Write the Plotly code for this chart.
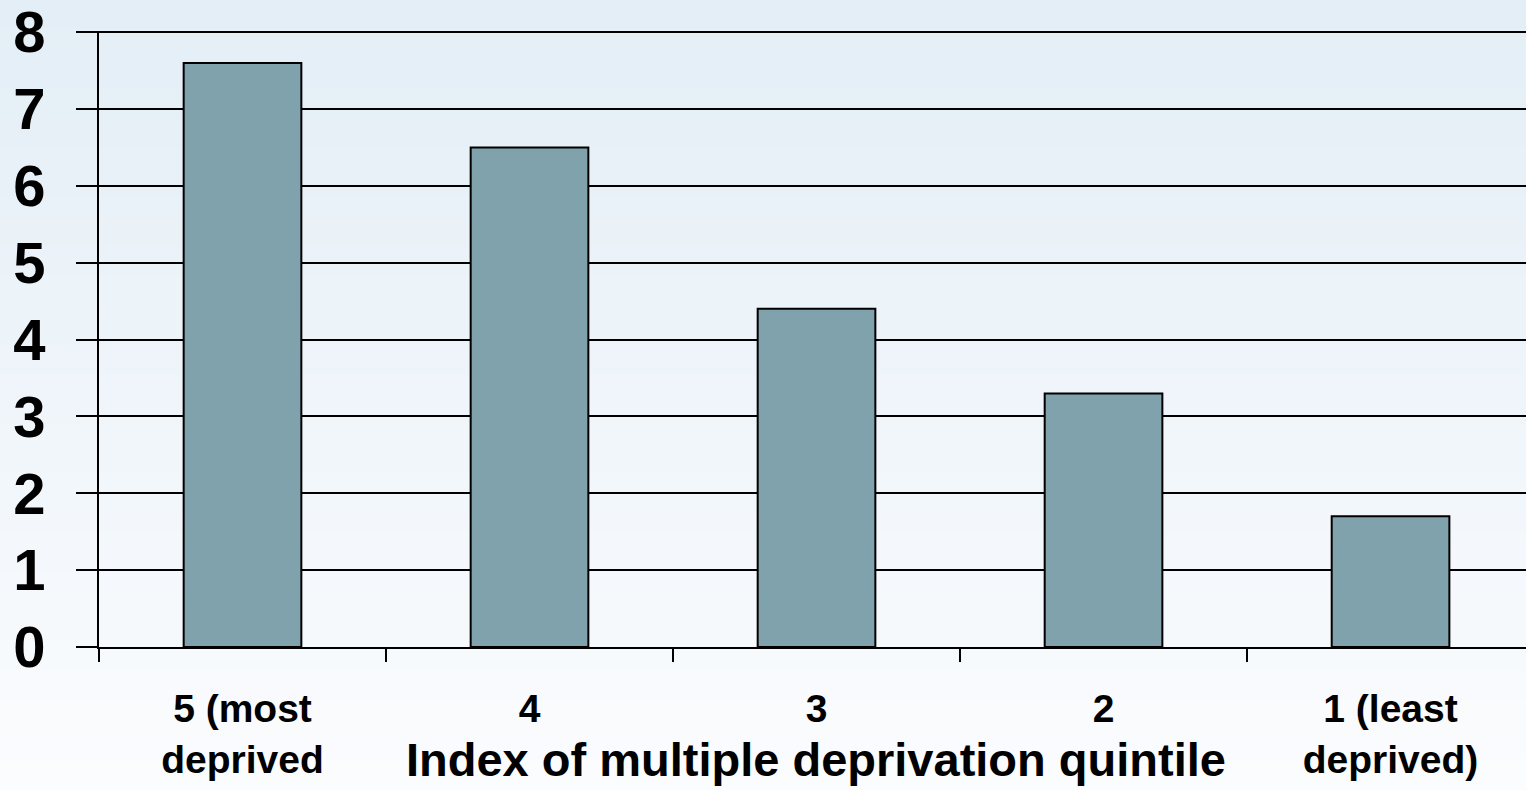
import plotly.graph_objects as go

categories = ["5 (most<br>deprived", "4", "3", "2", "1 (least<br>deprived)"]
values = [7.6, 6.5, 4.4, 3.3, 1.7]
y_ticks = [0, 1, 2, 3, 4, 5, 6, 7, 8]
x_title = "Index of multiple deprivation quintile"

W, H = 1526, 790
L, R, T, B = 99, 0, 31, 143

fig = go.Figure()
fig.add_trace(go.Bar(
    x=categories, y=values, width=0.41,
    marker=dict(color="#80A2AC", line=dict(color="#000000", width=2)),
    hoverinfo="skip",
))

# vertical gradient background
top = (227, 238, 246)
bot = (251, 252, 254)
n = 80
ph = H - T - B
y_top = (H - B - 0) / ph
y_bot = (H - B - H) / ph
shapes = []
for i in range(n):
    f = i / (n - 1)
    c = tuple(round(top[k] + (bot[k] - top[k]) * f) for k in range(3))
    y0 = y_top - (y_top - y_bot) * i / n
    y1 = y_top - (y_top - y_bot) * (i + 1) / n
    shapes.append(dict(type="rect", xref="paper", yref="paper",
                       x0=-0.1, x1=1.1, y0=y1 - 0.002, y1=y0 + 0.002,
                       fillcolor="rgb(%d,%d,%d)" % c, line=dict(width=0),
                       layer="below"))

fig.update_layout(
    width=W, height=H,
    margin=dict(l=L, r=R, t=T, b=B, pad=0, autoexpand=False),
    paper_bgcolor="rgb(251,252,254)",
    plot_bgcolor="rgba(0,0,0,0)",
    shapes=shapes,
    showlegend=False,
    bargap=0.59,
    font=dict(family="Liberation Sans, Arial, sans-serif", color="#000000"),
    annotations=[dict(text="<b>%s</b>" % x_title, xref="paper", yref="paper",
                      x=0.5025, y=(H - B - 759) / ph, xanchor="center", yanchor="middle",
                      showarrow=False, font=dict(size=47, color="#000000"))],
)

fig.update_xaxes(
    range=[-0.5, 4.472],
    tickson="boundaries",
    ticks="outside", ticklen=13, tickwidth=2, tickcolor="#000000",
    showline=True, linecolor="#000000", linewidth=2,
    showgrid=False,
    automargin=False,
    tickfont=dict(size=39, family="Liberation Sans, Arial, sans-serif", weight="bold"),
    ticklabelstandoff=26,
    ticklabeloverflow="allow",
    fixedrange=True,
)
fig.update_yaxes(
    range=[0, 8.015],
    tickvals=y_ticks,
    ticks="outside", ticklen=21, tickwidth=2, tickcolor="#000000",
    showline=True, linecolor="#000000", linewidth=2,
    showgrid=True, gridcolor="#000000", gridwidth=2,
    zeroline=False,
    automargin=False,
    tickfont=dict(size=58, family="Liberation Sans, Arial, sans-serif", weight="bold"),
    ticklabelstandoff=19,
    ticklabeloverflow="allow",
    fixedrange=True,
)

fig.write_html(
    "out.html",
    config={"displayModeBar": False},
    post_script="document.body.style.margin='0px';document.body.style.background='rgb(227,238,246)';",
)
